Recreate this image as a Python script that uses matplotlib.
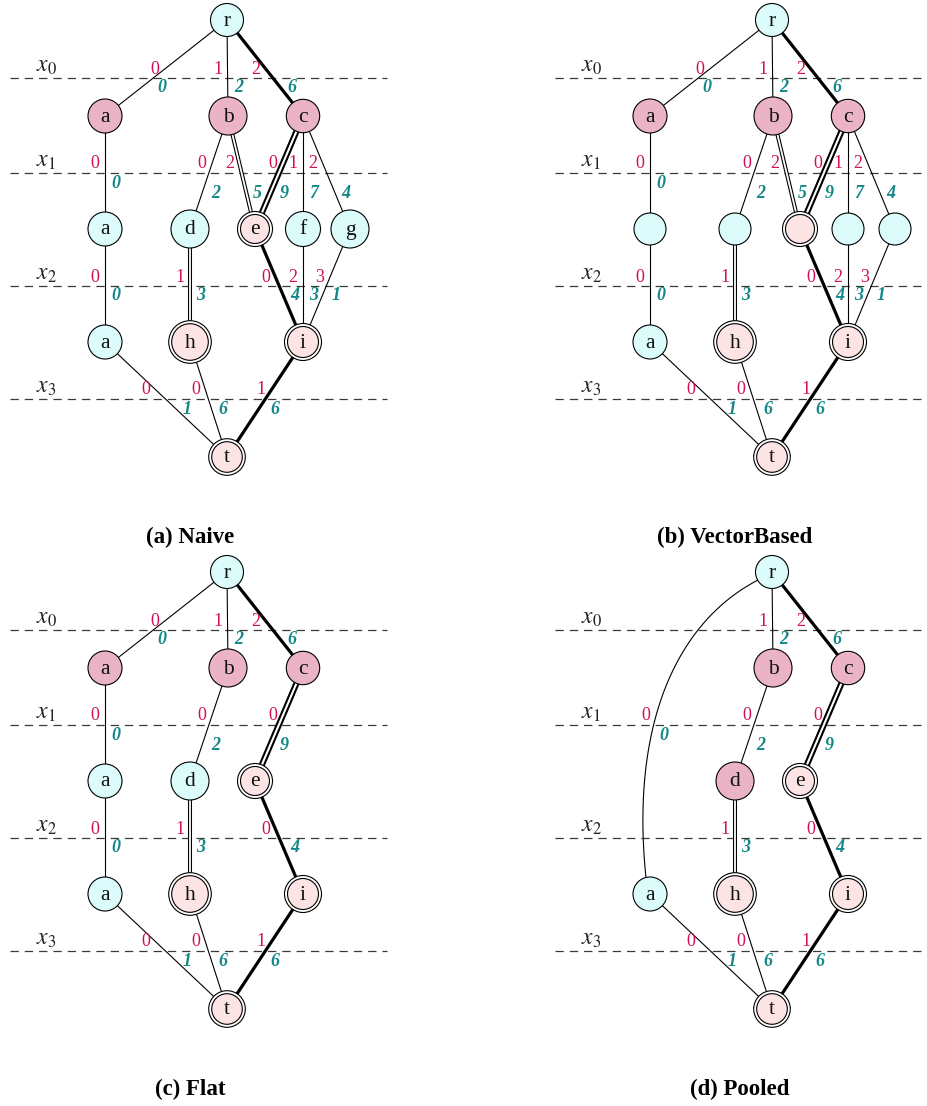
import numpy as np
import matplotlib
matplotlib.use('Agg')
import matplotlib.pyplot as plt
from matplotlib.patches import Circle

plt.rcParams['lines.scale_dashes'] = False
plt.rcParams['mathtext.fontset'] = 'stix'
SERIF = 'Liberation Serif'

# ---------------- data ----------------
layer_labels = ['$x_0$', '$x_1$', '$x_2$', '$x_3$']
captions = ['(a) Naive', '(b) VectorBased', '(c) Flat', '(d) Pooled']

# node id -> displayed letter
node_letter = {'r': 'r', 'a1': 'a', 'b': 'b', 'c': 'c', 'a2': 'a', 'd': 'd', 'e': 'e',
               'f': 'f', 'g': 'g', 'a3': 'a', 'h': 'h', 'i': 'i', 't': 't'}
node_layer = {'r': 0, 'a1': 1, 'b': 1, 'c': 1, 'a2': 2, 'd': 2, 'e': 2, 'f': 2, 'g': 2,
              'a3': 3, 'h': 3, 'i': 3, 't': 4}

# panel (a) Naive
nodes_a = ['r', 'a1', 'b', 'c', 'a2', 'd', 'e', 'f', 'g', 'a3', 'h', 'i', 't']
kinds_a = ['cyan', 'pink', 'pink', 'pink', 'cyan', 'cyan', 'double', 'cyan', 'cyan',
           'cyan', 'double', 'double', 'double']
edges_a = [('r', 'a1'), ('r', 'b'), ('r', 'c'), ('a1', 'a2'), ('b', 'd'), ('b', 'e'),
           ('c', 'e'), ('c', 'f'), ('c', 'g'), ('a2', 'a3'), ('d', 'h'), ('e', 'i'),
           ('f', 'i'), ('g', 'i'), ('a3', 't'), ('h', 't'), ('i', 't')]
red_a = [0, 1, 2, 0, 0, 2, 0, 1, 2, 0, 1, 0, 2, 3, 0, 0, 1]
teal_a = [0, 2, 6, 0, 2, 5, 9, 7, 4, 0, 3, 4, 3, 1, 1, 6, 6]

# panel (b) VectorBased: same graph, layer-2 nodes unlabeled
nodes_b = nodes_a
kinds_b = kinds_a
hidden_b = ['a2', 'd', 'e', 'f', 'g']
edges_b = edges_a
red_b = red_a
teal_b = teal_a

# panel (c) Flat
nodes_c = ['r', 'a1', 'b', 'c', 'a2', 'd', 'e', 'a3', 'h', 'i', 't']
kinds_c = ['cyan', 'pink', 'pink', 'pink', 'cyan', 'cyan', 'double', 'cyan', 'double',
           'double', 'double']
edges_c = [('r', 'a1'), ('r', 'b'), ('r', 'c'), ('a1', 'a2'), ('b', 'd'), ('c', 'e'),
           ('a2', 'a3'), ('d', 'h'), ('e', 'i'), ('a3', 't'), ('h', 't'), ('i', 't')]
red_c = [0, 1, 2, 0, 0, 0, 0, 1, 0, 0, 0, 1]
teal_c = [0, 2, 6, 0, 2, 9, 0, 3, 4, 1, 6, 6]

# panel (d) Pooled
nodes_d = ['r', 'b', 'c', 'd', 'e', 'a3', 'h', 'i', 't']
kinds_d = ['cyan', 'pink', 'pink', 'pink', 'double', 'cyan', 'double', 'double', 'double']
edges_d = [('r', 'a3'), ('r', 'b'), ('r', 'c'), ('b', 'd'), ('c', 'e'), ('d', 'h'),
           ('e', 'i'), ('a3', 't'), ('h', 't'), ('i', 't')]
red_d = [0, 1, 2, 0, 0, 1, 0, 0, 0, 1]
teal_d = [0, 2, 6, 2, 9, 3, 4, 1, 6, 6]

# ---------------- layout / style ----------------
node_xy = {'r': (227, 20), 'a1': (105, 116), 'b': (228, 116), 'c': (303, 116),
           'a2': (105, 229), 'd': (190, 229), 'e': (255, 229), 'f': (303, 229), 'g': (350, 229),
           'a3': (105, 342), 'h': (190, 342), 'i': (303, 342), 't': (227, 457)}
node_r = {'r': 16.5, 'a': 17, 'b': 19, 'c': 16.7, 'd': 19, 'e': 14.5, 'f': 17.5, 'g': 19,
          'h': 18.3, 'i': 15.5, 't': 15.3, '': 16}
line_y = [78, 173, 286, 399]
panel_off = [(0, 0), (545, 0), (0, 552), (545, 552)]
caption_xy = [(190, 537), (735, 537), (190, 1089), (740, 1089)]

edge_style = {('r', 'c'): 'thick', ('e', 'i'): 'thick', ('i', 't'): 'thick',
              ('b', 'e'): 'double', ('d', 'h'): 'double', ('c', 'e'): 'thickdouble',
              ('r', 'a3'): 'curve'}

C_CYAN = '#dcfcfc'
C_PINK = '#ebb3c6'
C_LPINK = '#fde4e4'
C_RED = '#d0105a'
C_TEAL = '#148888'

W, H = 927, 1106
fig = plt.figure(figsize=(W / 100, H / 100), dpi=100)
ax = fig.add_axes([0, 0, 1, 1])
ax.set_xlim(0, W)
ax.set_ylim(H, 0)
ax.axis('off')


def bezier(P, n=300):
    t = np.linspace(0, 1, n)[:, None]
    P = [np.array(p, float) for p in P]
    return ((1 - t) ** 3) * P[0] + 3 * ((1 - t) ** 2) * t * P[1] + 3 * (1 - t) * t ** 2 * P[2] + t ** 3 * P[3]


def label_edge(cross, s, yl, h, red, teal):
    ax.text(cross - 9 * s - 10, yl - 9, str(red), color=C_RED, fontsize=13,
            family=SERIF, ha='center', va='center', zorder=6)
    ax.text(cross + h * s + 11 + 8 * max(0, -s), yl + h, str(teal), color=C_TEAL, fontsize=13,
            family=SERIF, fontweight='bold', fontstyle='italic', ha='center', va='center', zorder=6)


panels = [(nodes_a, kinds_a, [], edges_a, red_a, teal_a),
          (nodes_b, kinds_b, hidden_b, edges_b, red_b, teal_b),
          (nodes_c, kinds_c, [], edges_c, red_c, teal_c),
          (nodes_d, kinds_d, [], edges_d, red_d, teal_d)]

for k, (nodes, kinds, hidden, edges, reds, teals) in enumerate(panels):
    ox, oy = panel_off[k]
    P = {n: (node_xy[n][0] + ox, node_xy[n][1] + oy) for n in nodes}
    # dashed layer lines and labels
    for j, yl in enumerate(line_y):
        ax.plot([10 + ox, 387 + ox], [yl + oy, yl + oy], color='#3a3a3a', lw=0.9,
                linestyle=(0, (6, 4.3)), zorder=1)
        ax.text(36 + ox, yl + oy - 6, layer_labels[j], fontsize=17, ha='left', va='baseline',
                color='#222222', zorder=6)
    # edges
    for (u, v), rw, tw in zip(edges, reds, teals):
        st = edge_style.get((u, v), 'thin')
        (x1, y1), (x2, y2) = P[u], P[v]
        row = node_layer[u]
        if st == 'curve':
            pts = bezier([(x1 - 14, y1 + 8), (x1 - 95, y1 + 50), (x2 - 20, y2 - 170), (x2 - 4, y2 - 16)])
            ax.plot(pts[:, 0], pts[:, 1], color='black', lw=0.8, zorder=2)
            yl = line_y[1] + oy
            idx = np.argmin(np.abs(pts[:, 1] - yl))
            cross = pts[idx, 0]
            s = (pts[idx + 1, 0] - pts[idx - 1, 0]) / (pts[idx + 1, 1] - pts[idx - 1, 1])
            label_edge(cross, s, yl, 10, rw, tw)
            continue
        if st == 'thin':
            ax.plot([x1, x2], [y1, y2], color='black', lw=0.8, zorder=2)
        elif st == 'thick':
            ax.plot([x1, x2], [y1, y2], color='black', lw=2.3, zorder=2)
        elif st == 'double':
            ax.plot([x1, x2], [y1, y2], color='black', lw=2.9, zorder=2)
            ax.plot([x1, x2], [y1, y2], color='white', lw=1.3, zorder=2.1)
        elif st == 'thickdouble':
            ax.plot([x1, x2], [y1, y2], color='black', lw=4.5, zorder=2)
            ax.plot([x1, x2], [y1, y2], color='white', lw=1.5, zorder=2.1)
        yl = line_y[row] + oy
        s = (x2 - x1) / (y2 - y1)
        cross = x1 + s * (yl - y1)
        h = 20 if (row == 1 and node_xy[u][0] != 105) else 10
        label_edge(cross, s, yl, h, rw, tw)
    # nodes
    for n, kind in zip(nodes, kinds):
        x, y = P[n]
        letter = '' if n in hidden else node_letter[n]
        r = node_r[letter]
        if kind == 'double':
            if letter == '':
                r = 14.5
            ax.add_patch(Circle((x, y), r + 3, fc='white', ec='black', lw=0.8, zorder=3))
            ax.add_patch(Circle((x, y), r, fc=C_LPINK, ec='black', lw=0.8, zorder=3.1))
        else:
            fc = C_CYAN if kind == 'cyan' else C_PINK
            ax.add_patch(Circle((x, y), r, fc=fc, ec='black', lw=0.8, zorder=3))
        if letter:
            ax.text(x, y + 1, letter, fontsize=15.5, family=SERIF, ha='center', va='center',
                    color='#111111', zorder=5)
    cx, cy = caption_xy[k]
    ax.text(cx, cy, captions[k], fontsize=16.5, family=SERIF, fontweight='bold',
            ha='center', va='center', color='black')

fig.savefig('out.png', dpi=100)
